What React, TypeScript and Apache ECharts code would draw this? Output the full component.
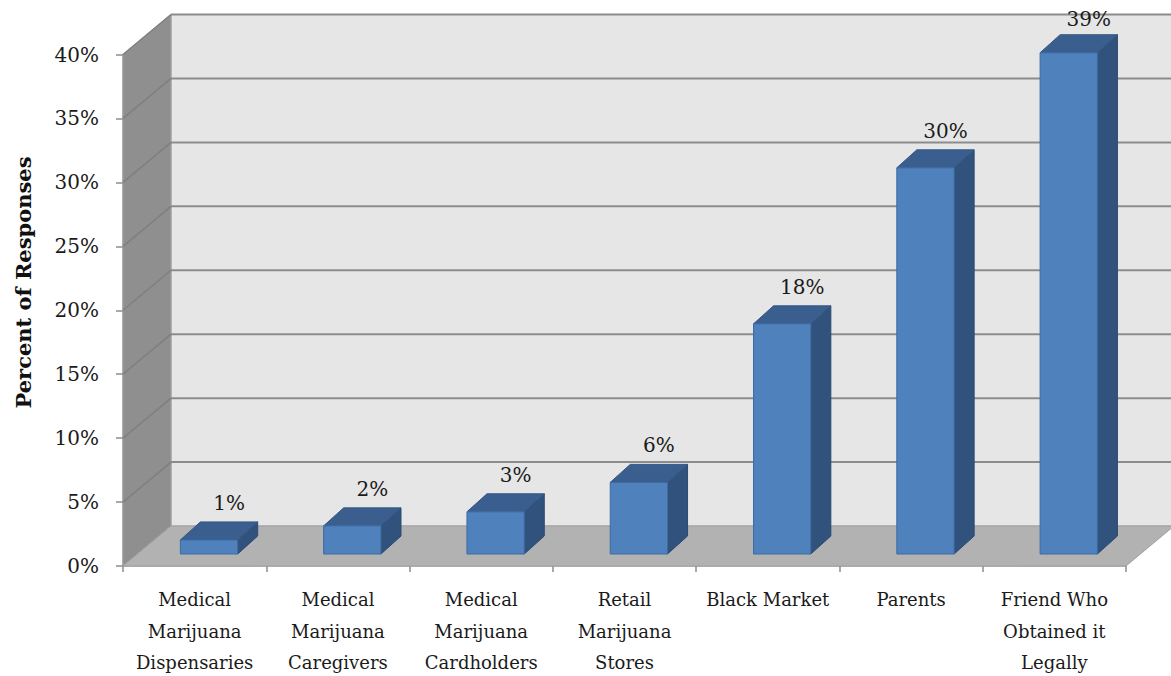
import React, { useEffect, useRef } from "react";
import * as echarts from "echarts";

const categories = [
  "Medical\nMarijuana\nDispensaries",
  "Medical\nMarijuana\nCaregivers",
  "Medical\nMarijuana\nCardholders",
  "Retail\nMarijuana\nStores",
  "Black Market",
  "Parents",
  "Friend Who\nObtained it\nLegally",
];
const values = [1.1, 2.2, 3.3, 5.6, 18.0, 30.2, 39.2];
const valueLabels = ["1%", "2%", "3%", "6%", "18%", "30%", "39%"];
const yTicks = [0, 5, 10, 15, 20, 25, 30, 35, 40];
const yAxisTitle = "Percent of Responses";

const FONT = "'DejaVu Serif', serif";
const DX = 48;
const DY = -40;
const BAR_FRONT = 0.3;
const BDX = 20;
const BDY = -18;

export default function App() {
  const ref = useRef<HTMLDivElement>(null);
  useEffect(() => {
    document.body.style.margin = "0";
    const chart = echarts.init(ref.current!, null, { renderer: "svg" });
    const yMax = yTicks[yTicks.length - 1];

    const wallsRender = (params: any, api: any) => {
      const cs = params.coordSys;
      const left = cs.x;
      const right = cs.x + cs.width;
      const bottomY = api.coord([0, 0])[1];
      const topY = api.coord([0, yMax])[1];
      const children: any[] = [];
      children.push({
        type: "rect",
        shape: { x: left + DX, y: topY + DY, width: right - left + 10, height: bottomY - topY },
        style: { fill: "#e6e6e6", stroke: "#a6a6a6", lineWidth: 1 },
      });
      children.push({
        type: "polygon",
        shape: { points: [[left, topY], [left + DX, topY + DY], [left + DX, bottomY + DY], [left, bottomY]] },
        style: { fill: "#8f8f8f", stroke: "#a0a0a0", lineWidth: 1 },
      });
      children.push({
        type: "polygon",
        shape: { points: [[left, bottomY], [left + DX, bottomY + DY], [right + DX, bottomY + DY], [right, bottomY]] },
        style: { fill: "#b2b2b2", stroke: "#a0a0a0", lineWidth: 1 },
      });
      yTicks.forEach((t) => {
        const y = api.coord([0, t])[1];
        if (t > 0) {
          children.push({
            type: "line",
            shape: { x1: left + DX, y1: y + DY, x2: right + DX + 10, y2: y + DY },
            style: { stroke: "#8c8c8c", lineWidth: 2 },
          });
          children.push({
            type: "line",
            shape: { x1: left, y1: y, x2: left + DX, y2: y + DY },
            style: { stroke: "#7f7f7f", lineWidth: 1.5 },
          });
        }
      });
      return { type: "group", children };
    };

    const barRender = (params: any, api: any) => {
      const cat = api.value(0);
      const val = api.value(1);
      const base = api.coord([cat, 0]);
      const top = api.coord([cat, val]);
      const bw = api.size([1, 0])[0] * 0.4;
      const fx = DX * BAR_FRONT;
      const fy = DY * BAR_FRONT;
      const x0 = base[0] - bw / 2 + fx;
      const y0 = base[1] + fy;
      const y1 = top[1] + fy;
      const labelY = Math.max(y1 + BDY - 19, 19);
      return {
        type: "group",
        children: [
          {
            type: "polygon",
            shape: { points: [[x0 + bw, y1], [x0 + bw + BDX, y1 + BDY], [x0 + bw + BDX, y0 + BDY], [x0 + bw, y0]] },
            style: { fill: "#31527d", stroke: "#2c4a72", lineWidth: 1 },
          },
          {
            type: "polygon",
            shape: { points: [[x0, y1], [x0 + BDX, y1 + BDY], [x0 + bw + BDX, y1 + BDY], [x0 + bw, y1]] },
            style: { fill: "#3a5f8e", stroke: "#345683", lineWidth: 1 },
          },
          {
            type: "rect",
            shape: { x: x0, y: y1, width: bw, height: y0 - y1 },
            style: { fill: "#4f81bd", stroke: "#3d6aa0", lineWidth: 1 },
          },
          {
            type: "text",
            style: {
              x: x0 + bw / 2 + BDX,
              y: labelY,
              text: valueLabels[params.dataIndex],
              fill: "#1a1a1a",
              font: `20px ${FONT}`,
              align: "center",
              verticalAlign: "middle",
            },
          },
        ],
      };
    };

    chart.setOption({
      animation: false,
      grid: {
        left: 123,
        right: 45,
        top: 54.5,
        bottom: 110,
        containLabel: false,
        outerBoundsMode: "none",
      },
      xAxis: {
        type: "category",
        data: categories,
        axisLine: { show: true, lineStyle: { color: "#a0a0a0", width: 1.5 } },
        axisTick: { show: true, length: 6, lineStyle: { color: "#8c8c8c", width: 1.5 } },
        axisLabel: {
          interval: 0,
          margin: 18,
          fontFamily: FONT,
          fontSize: 18,
          lineHeight: 31.5,
          color: "#1a1a1a",
        },
        splitLine: { show: false },
      },
      yAxis: {
        type: "value",
        min: 0,
        max: yMax,
        interval: 5,
        axisLine: { show: true, lineStyle: { color: "#a0a0a0", width: 1.5 } },
        axisTick: { show: true, length: 7, lineStyle: { color: "#8c8c8c", width: 1.5 } },
        axisLabel: {
          formatter: "{value}%",
          margin: 24,
          padding: [6, 0, 0, 0],
          fontFamily: FONT,
          fontSize: 20,
          color: "#1a1a1a",
        },
        splitLine: { show: false },
      },
      graphic: [
        {
          type: "text",
          x: 23,
          y: 282.5,
          rotation: Math.PI / 2,
          style: {
            text: yAxisTitle,
            font: `bold 21px ${FONT}`,
            fill: "#111",
            align: "center",
            verticalAlign: "middle",
          },
        },
      ],
      series: [
        {
          type: "custom",
          renderItem: wallsRender,
          data: [[0, 0]],
          clip: false,
          silent: true,
          z: 1,
        },
        {
          type: "custom",
          renderItem: barRender,
          data: values.map((v, i) => [i, v]),
          clip: false,
          silent: true,
          z: 2,
        },
      ],
    });
    return () => chart.dispose();
  }, []);
  return <div ref={ref} style={{ width: 1171, height: 676 }} />;
}
